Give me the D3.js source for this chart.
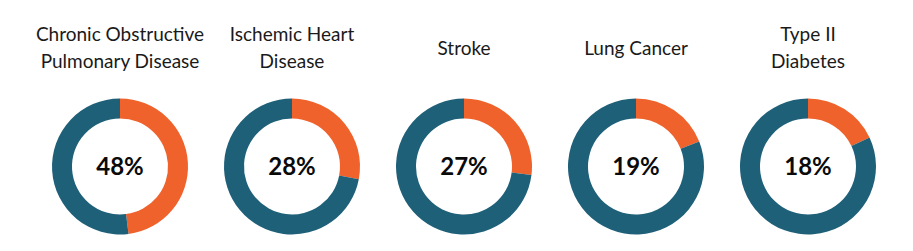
<!DOCTYPE html>
<html>
<head>
<meta charset="utf-8">
<script src="https://cdn.jsdelivr.net/npm/d3@7"></script>
<style>
  html, body { margin: 0; padding: 0; background: #fff; }
  svg { display: block; }
</style>
</head>
<body>
<svg id="chart" width="913" height="251"></svg>
<script>
// Data
const categories = ["Chronic Obstructive Pulmonary Disease", "Ischemic Heart Disease", "Stroke", "Lung Cancer", "Type II Diabetes"];
const titleLines = [
  ["Chronic Obstructive", "Pulmonary Disease"],
  ["Ischemic Heart", "Disease"],
  ["Stroke"],
  ["Lung Cancer"],
  ["Type II", "Diabetes"]
];
const percentages = [48, 28, 27, 19, 18];

const W = 913, H = 251;
const svg = d3.select("#chart");

const x = d3.scalePoint().domain(categories).range([120, 808]);
const cy = 166.5;
const outerR = 68, innerR = 48;
const lineH = 27;
const titleMid = 54.5;

const pie = d3.pie().sort(null).value(d => d);
const arc = d3.arc().innerRadius(innerR).outerRadius(outerR);
const colors = ["#f0622b", "#1f6079"];

const g = svg.selectAll("g.donut")
  .data(categories)
  .join("g")
  .attr("class", "donut")
  .attr("transform", d => `translate(${x(d)},0)`);

g.each(function(cat, i) {
  const sel = d3.select(this);
  const v = percentages[i];
  const arcs = pie([v, 100 - v]);
  const dg = sel.append("g").attr("transform", `translate(0,${cy})`);
  dg.selectAll("path")
    .data(arcs)
    .join("path")
    .attr("d", arc)
    .attr("fill", (d, j) => colors[j]);
  dg.append("text")
    .attr("text-anchor", "middle")
    .attr("dy", "0.36em")
    .attr("font-family", "Lato, 'Open Sans', sans-serif")
    .attr("font-weight", "bold")
    .attr("font-size", 24)
    .attr("fill", "#0a0a0a")
    .text(v + "%");

  const lines = titleLines[i];
  const n = lines.length;
  const t = sel.append("text")
    .attr("text-anchor", "middle")
    .attr("font-family", "Lato, 'Open Sans', sans-serif")
    .attr("font-size", 19)
    .attr("fill", "#1a1a1a");
  lines.forEach((ln, k) => {
    t.append("tspan")
      .attr("x", 0)
      .attr("y", titleMid + (k - (n - 1) / 2) * lineH)
      .text(ln);
  });
});
</script>
</body>
</html>
